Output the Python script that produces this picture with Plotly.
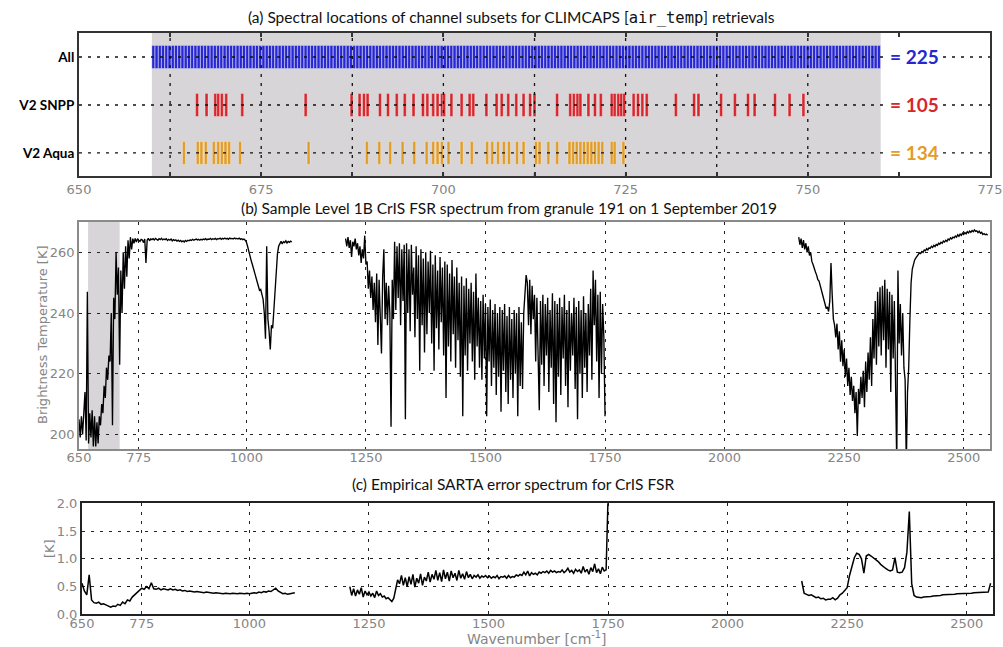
import numpy as np
import plotly.graph_objects as go

# ---------------- Panel (a) data: channel positions (cm-1) ----------------
ROW_LABELS = ["All", "V2 SNPP", "V2 Aqua"]
ROW_COUNTS = ["= 225", "= 105", "= 134"]
ROW_POS = [2, 1, 0]

CH_ALL = [
    660.20, 660.64, 661.09, 661.53, 661.98, 662.42, 662.87, 663.31, 663.76,
    664.20, 664.64, 665.09, 665.53, 665.98, 666.42, 666.87, 667.31, 667.76,
    668.20, 668.64, 669.09, 669.53, 669.98, 670.42, 670.87, 671.31, 671.76,
    672.20, 672.64, 673.09, 673.53, 673.98, 674.42, 674.87, 675.31, 675.76,
    676.20, 676.64, 677.09, 677.53, 677.98, 678.42, 678.87, 679.31, 679.76,
    680.20, 680.64, 681.09, 681.53, 681.98, 682.42, 682.87, 683.31, 683.76,
    684.20, 684.64, 685.09, 685.53, 685.98, 686.42, 686.87, 687.31, 687.76,
    688.20, 688.64, 689.09, 689.53, 689.98, 690.42, 690.87, 691.31, 691.76,
    692.20, 692.64, 693.09, 693.53, 693.98, 694.42, 694.87, 695.31, 695.76,
    696.20, 696.64, 697.09, 697.53, 697.98, 698.42, 698.87, 699.31, 699.76,
    700.20, 700.64, 701.09, 701.53, 701.98, 702.42, 702.87, 703.31, 703.76,
    704.20, 704.64, 705.09, 705.53, 705.98, 706.42, 706.87, 707.31, 707.76,
    708.20, 708.64, 709.09, 709.53, 709.98, 710.42, 710.87, 711.31, 711.76,
    712.20, 712.64, 713.09, 713.53, 713.98, 714.42, 714.87, 715.31, 715.76,
    716.20, 716.64, 717.09, 717.53, 717.98, 718.42, 718.87, 719.31, 719.76,
    720.20, 720.64, 721.09, 721.53, 721.98, 722.42, 722.87, 723.31, 723.76,
    724.20, 724.64, 725.09, 725.53, 725.98, 726.42, 726.87, 727.31, 727.76,
    728.20, 728.64, 729.09, 729.53, 729.98, 730.42, 730.87, 731.31, 731.76,
    732.20, 732.64, 733.09, 733.53, 733.98, 734.42, 734.87, 735.31, 735.76,
    736.20, 736.64, 737.09, 737.53, 737.98, 738.42, 738.87, 739.31, 739.76,
    740.20, 740.64, 741.09, 741.53, 741.98, 742.42, 742.87, 743.31, 743.76,
    744.20, 744.64, 745.09, 745.53, 745.98, 746.42, 746.87, 747.31, 747.76,
    748.20, 748.64, 749.09, 749.53, 749.98, 750.42, 750.87, 751.31, 751.76,
    752.20, 752.64, 753.09, 753.53, 753.98, 754.42, 754.87, 755.31, 755.76,
    756.20, 756.64, 757.09, 757.53, 757.98, 758.42, 758.87, 759.31, 759.76,
]

CH_SNPP = [
    666.2, 667.5, 668.7, 669.1, 669.6, 670.2, 672.4, 681.1, 687.4, 688.5,
    689.1, 689.6, 691.3, 692.4, 693.6, 694.7, 695.9, 697.2, 697.8, 698.6,
    699.2, 699.8, 700.1, 701.1, 702.5, 703.6, 704.1, 705.9, 707.3, 708.0,
    708.9, 710.0, 711.0, 711.9, 712.5, 715.6, 717.4, 717.9, 718.4, 718.8,
    719.9, 720.8, 721.6, 723.1, 723.5, 724.0, 724.4, 724.8, 726.1, 726.7,
    727.3, 727.9, 731.9, 734.4, 735.0, 738.1, 740.0, 741.8, 742.7, 745.5,
    747.5, 749.4,
]

CH_AQUA = [
    664.4, 666.3, 666.8, 667.4, 668.5, 669.1, 669.6, 670.1, 670.6, 672.1,
    681.5, 689.5, 691.2, 692.7, 694.4, 696.0, 697.7, 698.6, 699.2, 699.8,
    700.7, 702.5, 703.9, 706.0, 706.7, 707.5, 708.3, 709.0, 710.1, 711.0,
    712.7, 713.2, 714.4, 715.6, 717.3, 717.8, 718.3, 718.8, 719.3, 719.8,
    720.3, 720.8, 721.3, 721.8, 723.1, 723.5, 724.7,
]

SHADE_A = [660.0, 760.0]          # shaded spectral region, panel (a)
SHADE_B = [669.0, 735.0]          # shaded spectral region, panel (b)

# ---------------- Panel (b) brightness temperature spectrum (K) ----------------
BT_STEP = 2.5
BT_LW_START = 650.0
BT_LW = [
    205, 199, 206, 200, 207, 214, 198, 247, 197, 207,
    199, 208, 196, 206, 196, 204, 197, 206, 203, 210,
    207, 216, 212, 222, 218, 226, 224, 240, 203, 245,
    238, 260, 246, 255, 223, 254, 240, 260, 248, 262,
    252, 264, 258, 265, 261, 264.5, 263, 264.6, 263.4, 264.5,
    264.0, 263.6, 264.3, 264.1, 263.2, 264.4, 256.5, 264.0, 264.6, 263.8,
    264.4, 264.2,
    264.5, 264.1, 264.6, 264.3, 264.0, 264.5, 264.2, 264.6, 264.1, 264.4,
    264.2, 264.5, 263.9, 264.3, 264.0, 264.4, 263.8, 264.2, 263.9, 264.1,
    263.7, 264.0, 263.6, 263.9, 263.5, 263.8, 263.4, 263.9, 263.6, 264.0,
    263.8, 264.1, 263.9, 264.3, 264.0, 264.2, 264.4, 264.1, 264.3, 264.0,
    264.3, 264.1, 264.4, 264.2, 264.5, 264.1, 264.4, 264.3, 264.6, 264.2,
    264.5, 264.3, 264.6, 264.2, 264.5, 264.4, 264.7, 264.3, 264.6, 264.4,
    264.7, 264.4, 264.6, 264.3, 264.7, 264.5, 264.6, 264.4, 264.7, 264.5,
    264.6, 264.4, 264.7, 264.3, 264.5, 264.2, 264.4,
    264.0, 263.4, 262.0, 260.2, 258.6, 257.3, 256.0, 254.6, 253.0, 251.8,
    250.1, 249.0, 247.5, 247.8, 246.0, 244.5, 240.0, 231.5, 262.0, 238.0,
    234.0, 228.0, 236.0, 235.0, 241.0, 247.0, 254.0, 259.5, 262.0, 263.0,
    263.6, 262.8, 263.5, 263.2, 263.8, 263.1, 263.6, 263.3, 263.7, 263.4,
]
BT_MW_START = 1207.5
BT_MW = [
    264.5, 262.0, 265.0, 261.5, 264.0, 258.5, 263.5, 262.0, 264.5, 261.0,
    263.0, 259.0, 262.0, 256.5, 261.0, 258.0, 265.5, 256.0, 257.0, 248.0,
    254.0, 245.0, 252.0, 241.0, 250.0, 237.0, 253.0, 229.5, 251.0, 236.0,
    226.7, 252.0, 261.0, 238.0, 250.0, 236.0, 249.0, 240.0, 202.5, 251.0,
    238.0, 263.5, 241.0, 262.0, 245.0, 263.0, 236.0, 261.0, 244.0, 262.5,
    205.0, 263.0, 240.0, 261.0, 234.0, 262.5, 246.0, 255.0, 232.0, 262.0,
    238.0, 259.0, 221.0, 261.0, 236.0, 258.0, 227.0, 260.0, 233.0, 257.0,
    240.0, 260.5, 230.0, 256.0, 221.0, 259.0, 235.0, 254.0, 228.0, 258.5,
    237.0, 255.0, 226.0, 257.0, 212.0, 256.0, 229.0, 253.0, 224.0, 257.5,
    233.0, 252.0, 222.0, 255.0, 231.0, 250.0, 219.0, 252.0, 206.0, 249.0,
    226.0, 251.5, 221.0, 248.0, 230.0, 250.0, 224.0, 247.0, 218.0, 253.0,
    229.0, 245.0, 222.0, 244.0, 218.0, 246.0, 225.0, 243.0, 206.0, 242.0,
    224.0, 244.5, 216.0, 241.0, 222.0, 243.0, 213.0, 240.0, 219.0, 242.0,
    207.5, 241.0, 221.0, 243.0, 214.0, 239.0, 210.0, 242.0, 218.0, 238.0,
    212.0, 241.0, 220.0, 240.0, 206.0, 242.0, 216.0, 237.0, 215.0, 240.0,
    246.0, 252.5, 250.0, 236.0, 251.0, 233.0, 249.0, 238.0, 246.0, 224.0,
    245.0, 219.0, 208.0, 244.0, 223.0, 246.0, 216.0, 243.0, 226.0, 245.0,
    214.0, 241.0, 222.0, 246.5, 210.0, 244.0, 204.0, 243.0, 219.0, 245.0,
    213.0, 242.0, 225.0, 246.0, 216.0, 241.0, 209.0, 244.0, 221.0, 240.0,
    226.0, 245.0, 215.0, 242.0, 205.0, 244.0, 220.0, 241.0, 212.0, 245.5,
    222.0, 240.0, 214.0, 243.0, 226.0, 248.0, 218.0, 254.0, 236.0, 251.0,
    224.0, 246.0, 212.0, 247.0, 220.0, 243.0, 232.0, 206.0,
]
BT_SW_START = 2155.0
BT_SW = [
    265.0, 262.5, 264.5, 261.5, 264.0, 261.0, 263.0, 260.0, 262.0, 259.0,
    260.0, 257.0, 256.0, 254.5, 253.5, 252.5, 251.0, 250.5, 249.0, 248.0,
    246.0, 245.0, 243.5, 241.5, 242.0, 240.5, 244.0, 256.5, 246.0, 238.0,
    236.0, 232.0, 236.5, 228.0, 234.0, 224.0, 231.0, 222.5, 228.0, 219.0,
    225.0, 216.0, 222.0, 213.0, 219.0, 211.0, 216.0, 207.0, 214.0, 199.5,
    215.0, 210.0, 219.0, 212.0, 221.0, 209.0, 224.0, 214.0, 227.0, 218.0,
    232.0, 216.0, 238.0, 225.0, 244.0, 223.0, 247.0, 229.0, 248.5, 226.0,
    249.0, 231.0, 251.0, 222.0, 248.0, 228.0, 247.0, 214.0, 246.0, 225.0,
    244.0, 219.0, 190.0, 254.0, 230.0, 243.0, 226.0, 240.0, 222.0, 218.0,
    190.0, 214.0, 222.0, 238.0, 250.0, 254.5, 256.5, 257.5, 258.2, 258.8,
    259.2, 259.8, 259.6, 260.3, 260.0, 260.8, 260.5, 261.2, 260.8, 261.5,
    261.3, 262.0, 261.6, 262.3, 261.9, 262.6, 262.3, 263.0, 262.7, 263.3,
    263.0, 263.7, 263.4, 264.0, 263.6, 264.4, 264.1, 264.8, 264.4, 265.0,
    264.8, 265.4, 265.0, 265.8, 265.3, 266.0, 265.6, 266.3, 265.9, 266.5,
    266.1, 266.8, 266.4, 267.0, 266.6, 267.2, 266.8, 267.4, 266.9, 267.1,
    266.5, 267.0, 266.3, 266.6, 265.9, 266.2, 265.8, 266.0, 265.6,
]

# ---------------- Panel (c) SARTA error spectrum (K) ----------------
ER_LW_START, ER_LW_STEP = 650.0, 5.0
ER_LW = [
    0.56, 0.42, 0.35, 0.71, 0.26, 0.21, 0.20, 0.22, 0.18, 0.19,
    0.17, 0.15, 0.13, 0.15, 0.14, 0.18, 0.16, 0.22, 0.19, 0.26,
    0.24, 0.31, 0.35, 0.38, 0.43, 0.47, 0.45, 0.50, 0.46, 0.57,
    0.46, 0.45, 0.47, 0.44, 0.46, 0.45, 0.44, 0.46, 0.44, 0.45,
    0.43, 0.44, 0.42, 0.43, 0.41, 0.42, 0.41, 0.40, 0.41, 0.40,
    0.40, 0.39, 0.40, 0.39, 0.39, 0.38, 0.39, 0.38, 0.38, 0.37,
    0.38, 0.37, 0.37, 0.38, 0.37, 0.37, 0.38, 0.37, 0.37, 0.38,
    0.37, 0.38, 0.39, 0.38, 0.40, 0.39, 0.41, 0.40, 0.42, 0.41,
    0.44, 0.47, 0.42, 0.39, 0.37, 0.38, 0.36, 0.37, 0.38, 0.39,
]
ER_MW_START, ER_MW_STEP = 1210.0, 4.0
ER_MW = [
    0.50, 0.34, 0.46, 0.33, 0.44, 0.36, 0.48, 0.31, 0.42, 0.35,
    0.40, 0.33, 0.38, 0.30, 0.42, 0.34, 0.37, 0.31, 0.33, 0.28,
    0.30, 0.26, 0.23, 0.29, 0.45, 0.62, 0.55, 0.70, 0.52, 0.66,
    0.50, 0.68, 0.54, 0.72, 0.49, 0.65, 0.56, 0.73, 0.52, 0.67,
    0.60, 0.76, 0.58, 0.72, 0.63, 0.79, 0.61, 0.75, 0.59, 0.80,
    0.64, 0.76, 0.60, 0.78, 0.66, 0.74, 0.61, 0.79, 0.65, 0.73,
    0.63, 0.77, 0.66, 0.72, 0.64, 0.70, 0.67, 0.71, 0.65, 0.69,
    0.67, 0.70, 0.66, 0.69, 0.65, 0.68, 0.66, 0.70, 0.64, 0.68,
    0.67, 0.69, 0.65, 0.70, 0.66, 0.68, 0.67, 0.71, 0.69, 0.72,
    0.70, 0.76, 0.71, 0.78, 0.69, 0.75, 0.72, 0.74, 0.71, 0.76,
    0.74, 0.77, 0.75, 0.78, 0.74, 0.79, 0.76, 0.78, 0.75, 0.77,
    0.76, 0.80, 0.75, 0.78, 0.83, 0.76, 0.79, 0.74, 0.81, 0.77,
    0.80, 0.74, 0.86, 0.76, 0.81, 0.72, 0.84, 0.77, 0.91, 0.75,
    0.82, 0.73, 0.85, 0.78, 0.80, 2.10,
]
ER_SW_START, ER_SW_STEP = 2155.0, 5.0
ER_SW = [
    0.60, 0.38, 0.36, 0.34, 0.35, 0.32, 0.30, 0.31, 0.28, 0.29,
    0.26, 0.27, 0.27, 0.30, 0.26, 0.29, 0.35, 0.38, 0.43, 0.48,
    0.70, 0.88, 1.02, 1.10, 1.08, 1.00, 0.74, 1.05, 1.08, 1.05,
    1.02, 0.98, 0.95, 0.90, 0.86, 0.83, 0.80, 0.78, 0.80, 1.02,
    0.76, 0.75, 0.76, 0.84, 1.12, 1.85, 0.55, 0.34, 0.31, 0.30,
    0.30, 0.31, 0.31, 0.32, 0.32, 0.33, 0.33, 0.34, 0.34, 0.35,
    0.35, 0.35, 0.36, 0.36, 0.36, 0.37, 0.37, 0.37, 0.38, 0.38,
    0.38, 0.38, 0.39, 0.39, 0.39, 0.39, 0.40, 0.40, 0.40, 0.56,
]

TICKS_A = [650, 675, 700, 725, 750, 775]
MINOR_A = [662.5, 687.5, 712.5, 737.5, 762.5]
GRID_A = [662.5, 675, 687.5, 700, 712.5, 725, 737.5, 750]
TICKS_BC = [650, 775, 1000, 1250, 1500, 1750, 2000, 2250, 2500]
TICKS_B_Y = [200, 220, 240, 260]
TICKS_C_Y = [0.0, 0.5, 1.0, 1.5, 2.0]

# ---------------- Styling ----------------
W, H = 1003, 647
BLUE, RED, ORANGE = "#2626d2", "#d7262c", "#e29c28"
SHADE = "#d7d5d7"
TICKGRAY = "#858585"
DASH = "3px,6px"
TICKFONT = dict(family="DejaVu Sans", size=13, color=TICKGRAY)
TITLEFONT = dict(family="Lato", size=15.5, color="#111111")
XA = [650, 775]
YA = [-0.48, 2.5]


def grid_x(v0, step, n):
    return v0 + step * np.arange(n)


fig = go.Figure()

# --- panel (a) bars ---
for chans, row, col in [(CH_ALL, 2, BLUE), (CH_SNPP, 1, RED), (CH_AQUA, 0, ORANGE)]:
    fig.add_trace(go.Bar(
        x=chans, y=[0.48] * len(chans), base=[row - 0.24] * len(chans),
        width=0.40, marker=dict(color=col, line=dict(color="rgba(255,255,255,0.55)", width=0.6)),
        xaxis="x", yaxis="y", showlegend=False, hoverinfo="x"))

# dotted grid of panel (a) drawn above the bars
gx, gy = [], []
for v in GRID_A:
    gx += [v, v, None]
    gy += [YA[0], YA[1], None]
for r in ROW_POS:
    gx += [XA[0], XA[1], None]
    gy += [r, r, None]
fig.add_trace(go.Scatter(x=gx, y=gy, mode="lines", line=dict(color="#111", width=1.3, dash=DASH),
                         xaxis="x", yaxis="y", showlegend=False, hoverinfo="skip"))

# --- panel (b) spectrum ---
for v0, vals in [(BT_LW_START, BT_LW), (BT_MW_START, BT_MW), (BT_SW_START, BT_SW)]:
    fig.add_trace(go.Scatter(x=grid_x(v0, BT_STEP, len(vals)), y=vals, mode="lines",
                             line=dict(color="black", width=1.35), xaxis="x2", yaxis="y2",
                             showlegend=False))

# --- panel (c) spectrum ---
for v0, st, vals in [(ER_LW_START, ER_LW_STEP, ER_LW), (ER_MW_START, ER_MW_STEP, ER_MW),
                     (ER_SW_START, ER_SW_STEP, ER_SW)]:
    fig.add_trace(go.Scatter(x=grid_x(v0, st, len(vals)), y=vals, mode="lines",
                             line=dict(color="black", width=1.5), xaxis="x3", yaxis="y3",
                             showlegend=False))

dom_x_ab = [79 / W, 990 / W]
dom_x_c = [82 / W, 993 / W]
dom_y_a = [1 - 176 / H, 1 - 33 / H]
dom_y_b = [1 - 449 / H, 1 - 222 / H]
dom_y_c = [1 - 614.3 / H, 1 - 503.3 / H]

common_grid = dict(showgrid=True, gridcolor="#222", gridwidth=1.2, griddash=DASH)

fig.update_layout(
    width=W, height=H, margin=dict(l=0, r=0, t=0, b=0, pad=0, autoexpand=False),
    paper_bgcolor="white", plot_bgcolor="white", barmode="overlay", showlegend=False,
    xaxis=dict(domain=dom_x_ab, range=XA, anchor="y", tickvals=TICKS_A,
               ticks="inside", ticklen=4, tickwidth=1.5, tickcolor="#333",
               minor=dict(tickvals=MINOR_A, ticks="inside", ticklen=4, tickwidth=1.5,
                          tickcolor="#333", showgrid=False),
               showline=True, mirror="ticks", linecolor="#333", linewidth=2,
               showgrid=False, zeroline=False, tickfont=TICKFONT, automargin=False),
    yaxis=dict(domain=dom_y_a, range=YA, anchor="x", tickvals=ROW_POS,
               ticktext=["<b>%s</b>" % s for s in ROW_LABELS],
               tickfont=dict(family="Lato", size=13.5, color="black"),
               showline=True, mirror=True, linecolor="#333", linewidth=2,
               showgrid=False, zeroline=False, ticks="", automargin=False),
    xaxis2=dict(domain=dom_x_ab, range=[650, 2555], anchor="y2", tickvals=TICKS_BC,
                showline=True, mirror=True, linecolor="#8a8a8a", linewidth=1.5,
                zeroline=False, tickfont=TICKFONT, ticks="", automargin=False,
                ticklabelstandoff=-4, **common_grid),
    yaxis2=dict(domain=dom_y_b, range=[195.2, 270], anchor="x2", tickvals=TICKS_B_Y,
                showline=True, mirror=True, linecolor="#8a8a8a", linewidth=1.5,
                zeroline=False, tickfont=TICKFONT, ticks="", automargin=False, **common_grid),
    xaxis3=dict(domain=dom_x_c, range=[650, 2555], anchor="y3", tickvals=TICKS_BC,
                showline=True, mirror=True, linecolor="#222", linewidth=2,
                zeroline=False, tickfont=TICKFONT, ticks="", automargin=False,
                ticklabelstandoff=-4, **common_grid),
    yaxis3=dict(domain=dom_y_c, range=[0, 2], anchor="x3", tickvals=TICKS_C_Y,
                tickformat=".1f", showline=True, mirror=True, linecolor="#222", linewidth=2,
                zeroline=False, tickfont=TICKFONT, ticks="", automargin=False, **common_grid),
)

fig.add_shape(type="rect", xref="x", yref="y domain", x0=SHADE_A[0], x1=SHADE_A[1], y0=0, y1=1,
              fillcolor=SHADE, line=dict(width=0), layer="below")
fig.add_shape(type="rect", xref="x2", yref="y2 domain", x0=SHADE_B[0], x1=SHADE_B[1], y0=0, y1=1,
              fillcolor=SHADE, line=dict(width=0), layer="below")

# counts on the right of panel (a)
for txt, row, col in zip(ROW_COUNTS, ROW_POS, [BLUE, RED, ORANGE]):
    fig.add_annotation(x=SHADE_A[1], y=row, xref="x", yref="y", text="<b>%s</b>" % txt,
                       xanchor="left", yanchor="middle", showarrow=False, xshift=5,
                       font=dict(family="Lato", size=19, color=col), bgcolor="white", borderpad=3)

titles = [
    ("(a) Spectral locations of channel subsets for CLIMCAPS "
     "[<span style='font-family:DejaVu Sans Mono'>air_temp</span>] retrievals", 512, 18),
    ("(b) Sample Level 1B CrIS FSR spectrum from granule 191 on 1 September 2019", 509, 208),
    ("(c) Empirical SARTA error spectrum for CrIS FSR", 513, 484),
]
for txt, px, py in titles:
    fig.add_annotation(x=px / W, y=1 - py / H, xref="paper", yref="paper", text=txt,
                       showarrow=False, xanchor="center", yanchor="middle", font=TITLEFONT)

fig.add_annotation(x=32.5 / W, y=1 - 335 / H, xref="paper", yref="paper",
                   text="Brightness Temperature [K]", textangle=-90, showarrow=False,
                   font=dict(family="DejaVu Sans", size=13, color=TICKGRAY))
fig.add_annotation(x=40 / W, y=1 - 560 / H, xref="paper", yref="paper",
                   text="[K]", textangle=-90, showarrow=False,
                   font=dict(family="DejaVu Sans", size=13, color=TICKGRAY))
fig.add_annotation(x=537 / W, y=0, xref="paper", yref="paper",
                   text="Wavenumber [cm<sup>-1</sup>]", showarrow=False,
                   xanchor="center", yanchor="bottom", borderpad=0, yshift=-1,
                   font=dict(family="DejaVu Sans", size=14, color=TICKGRAY))

fig.write_html("out.html")
